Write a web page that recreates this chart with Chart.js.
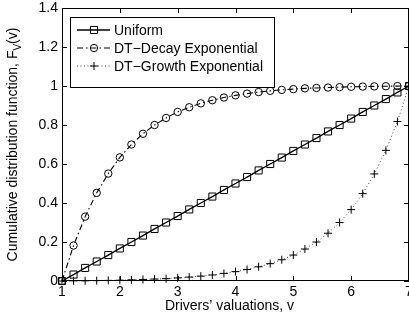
<!DOCTYPE html>
<html>
<head>
<meta charset="utf-8">
<script src="https://cdn.jsdelivr.net/npm/chart.js@4.4.1/dist/chart.umd.min.js"></script>
<style>
  html, body { margin: 0; padding: 0; background: #fff; }
  #wrap { width: 409px; height: 326px; }
</style>
</head>
<body>
<div id="wrap"><canvas id="cdfChart" width="409" height="326"></canvas></div>
<script>
// valuations v, sampled every 0.2 from 1 to 7
const valuations = [1, 1.2, 1.4, 1.6, 1.8, 2, 2.2, 2.4, 2.6, 2.8, 3, 3.2, 3.4, 3.6, 3.8, 4,
  4.2, 4.4, 4.6, 4.8, 5, 5.2, 5.4, 5.6, 5.8, 6, 6.2, 6.4, 6.6, 6.8, 7]

const uniformCdf = [0, 0.033, 0.067, 0.1, 0.133, 0.167, 0.2, 0.233, 0.267, 0.3, 0.333, 0.367,
  0.4, 0.433, 0.467, 0.5, 0.533, 0.567, 0.6, 0.633, 0.667, 0.7, 0.733, 0.767, 0.8, 0.833,
  0.867, 0.9, 0.933, 0.967, 1]

const decayCdf = [0, 0.182, 0.33, 0.452, 0.551, 0.634, 0.7, 0.755, 0.8, 0.836, 0.867, 0.891,
  0.911, 0.927, 0.941, 0.952, 0.961, 0.969, 0.975, 0.98, 0.984, 0.988, 0.99, 0.992, 0.994,
  0.996, 0.997, 0.998, 0.999, 0.9995, 1]

const growthCdf = [0, 0.001, 0.001, 0.002, 0.003, 0.004, 0.006, 0.008, 0.01, 0.012, 0.016,
  0.02, 0.025, 0.031, 0.039, 0.048, 0.059, 0.073, 0.089, 0.109, 0.133, 0.164, 0.2, 0.245,
  0.3, 0.366, 0.448, 0.549, 0.67, 0.818, 1]

const legendLabels = ["Uniform", "DT\u2212Decay Exponential", "DT\u2212Growth Exponential"]
const xTicks = [1, 2, 3, 4, 5, 6, 7]
const yTicks = [0, 0.2, 0.4, 0.6, 0.8, 1, 1.2, 1.4]

const FONT = "'Liberation Sans', Arial, Helvetica, sans-serif"
const toPoints = (ys) => valuations.map((x, i) => ({ x: x, y: ys[i] }))

// the styles of each series, reused by the hand-drawn legend
const seriesStyle = [
  { dash: [], color: "#000", width: 1.3, point: "rect", radius: 5 },
  { dash: [6, 3, 1.5, 3], color: "#000", width: 1.1, point: "circle", radius: 3.7 },
  { dash: [1, 2.5], color: "#444", width: 1, point: "cross", radius: 4 },
]

// box, inward ticks, legend and axis titles, matlab style
const matlabFrame = {
  id: "matlabFrame",
  afterDatasetsDraw(chart) {
    const ctx = chart.ctx
    const a = chart.chartArea
    const xs = chart.scales.x
    const ys = chart.scales.y
    const tl = 5

    ctx.save()
    ctx.strokeStyle = "#000"
    ctx.lineWidth = 1
    ctx.strokeRect(Math.round(a.left) + 0.5, Math.round(a.top) + 0.5,
      Math.round(a.right - a.left) - 1, Math.round(a.bottom - a.top) - 1)

    ctx.beginPath()
    xTicks.forEach((t) => {
      const px = Math.round(xs.getPixelForValue(t)) + 0.5
      ctx.moveTo(px, a.bottom); ctx.lineTo(px, a.bottom - tl)
      ctx.moveTo(px, a.top); ctx.lineTo(px, a.top + tl)
    })
    yTicks.forEach((t) => {
      const py = Math.round(ys.getPixelForValue(t)) + 0.5
      ctx.moveTo(a.left, py); ctx.lineTo(a.left + tl, py)
      ctx.moveTo(a.right, py); ctx.lineTo(a.right - tl, py)
    })
    ctx.stroke()

    // legend
    const lx = 70.5, ly = 17.5, lw = 204, lh = 70
    ctx.fillStyle = "#fff"
    ctx.fillRect(lx, ly, lw, lh)
    ctx.strokeRect(lx, ly, lw, lh)
    ctx.font = "14px " + FONT
    ctx.textBaseline = "middle"
    legendLabels.forEach((label, i) => {
      const s = seriesStyle[i]
      const cy = 30 + i * 18
      ctx.save()
      ctx.strokeStyle = s.color
      ctx.lineWidth = s.width
      ctx.setLineDash(s.dash)
      ctx.beginPath()
      ctx.moveTo(77, cy); ctx.lineTo(110, cy)
      ctx.stroke()
      ctx.restore()
      ctx.save()
      ctx.strokeStyle = "#000"
      ctx.fillStyle = "rgba(0,0,0,0)"
      ctx.lineWidth = 1
      Chart.helpers.drawPoint(ctx, { pointStyle: s.point, radius: s.radius, borderWidth: 1 }, 94, cy)
      ctx.restore()
      ctx.fillStyle = "#000"
      ctx.textAlign = "left"
      ctx.fillText(label, 114, cy + 1)
    })
    ctx.restore()
  },
  afterDraw(chart) {
    const ctx = chart.ctx
    const a = chart.chartArea
    ctx.save()
    ctx.fillStyle = "#000"
    ctx.font = "14px " + FONT
    ctx.textAlign = "center"
    ctx.textBaseline = "middle"
    ctx.fillText("Drivers\u2019 valuations, v", (a.left + a.right) / 2 - 6, 306)

    // y title with subscript V
    const main = "Cumulative distribution function, F"
    const sub = "V"
    const tail = "(v)"
    ctx.translate(13, (a.top + a.bottom) / 2)
    ctx.rotate(-Math.PI / 2)
    ctx.textAlign = "left"
    const wMain = ctx.measureText(main).width
    const wTail = ctx.measureText(tail).width
    ctx.font = "10px " + FONT
    const wSub = ctx.measureText(sub).width
    let x = -(wMain + wSub + wTail) / 2
    ctx.font = "14px " + FONT
    ctx.fillText(main, x, 0)
    x += wMain
    ctx.font = "10px " + FONT
    ctx.fillText(sub, x, 5)
    x += wSub
    ctx.font = "14px " + FONT
    ctx.fillText(tail, x, 0)
    ctx.restore()
  },
}

const noScalePadding = (scale) => {
  scale.paddingLeft = 0
  scale.paddingRight = 0
  scale.paddingTop = 0
  scale.paddingBottom = 0
}

document.addEventListener("DOMContentLoaded", () => {
  const ctx = document.getElementById("cdfChart").getContext("2d")
  const series = [uniformCdf, decayCdf, growthCdf]

  new Chart(ctx, {
    type: "line",
    data: {
      datasets: series.map((ys, i) => ({
        label: legendLabels[i],
        data: toPoints(ys),
        borderColor: seriesStyle[i].color,
        borderWidth: seriesStyle[i].width,
        borderDash: seriesStyle[i].dash,
        pointStyle: seriesStyle[i].point,
        pointRadius: seriesStyle[i].radius,
        pointBorderColor: "#000",
        pointBorderWidth: 1,
        pointBackgroundColor: "rgba(0,0,0,0)",
        fill: false,
        tension: 0,
        clip: false,
      })),
    },
    options: {
      responsive: false,
      animation: false,
      devicePixelRatio: 1,
      layout: { padding: { left: 0, right: -2, top: 8, bottom: 0 }, autoPadding: false },
      plugins: { legend: { display: false }, tooltip: { enabled: false } },
      scales: {
        x: {
          type: "linear",
          min: 1,
          max: 7,
          afterBuildTicks: (scale) => { scale.ticks = xTicks.map((v) => ({ value: v })) },
          afterFit: (scale) => { scale.height = 45; noScalePadding(scale) },
          grid: { display: false, drawTicks: false },
          border: { display: false },
          ticks: { color: "#000", padding: 3, font: { size: 14, family: FONT }, maxRotation: 0 },
        },
        y: {
          type: "linear",
          min: 0,
          max: 1.4,
          afterBuildTicks: (scale) => { scale.ticks = yTicks.map((v) => ({ value: v })) },
          afterFit: (scale) => { scale.width = 62; noScalePadding(scale) },
          grid: { display: false, drawTicks: false },
          border: { display: false },
          ticks: { color: "#000", padding: 4, font: { size: 14, family: FONT },
            callback: (v) => String(+v.toFixed(1)) },
        },
      },
    },
    plugins: [matlabFrame],
  })
})
</script>
</body>
</html>
